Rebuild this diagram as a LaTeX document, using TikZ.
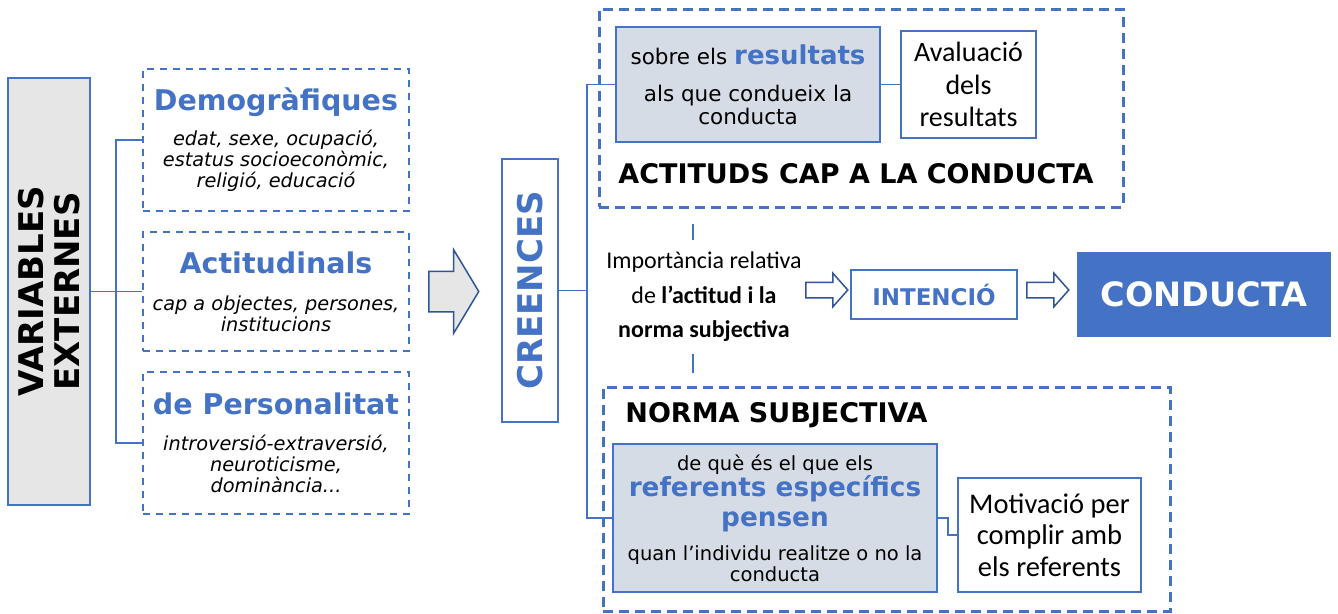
\documentclass[tikz,border=0pt]{standalone}
\usepackage{fontspec}
\setmainfont{DejaVu Sans}[ItalicFont={DejaVu Sans Oblique},BoldFont={DejaVu Sans Bold},BoldItalicFont={DejaVu Sans Bold Oblique}]
\newfontfamily\calib{Carlito}
\usepackage{tikz}
\usetikzlibrary{shapes.arrows}
\definecolor{mblue}{HTML}{4472C4}
\definecolor{dblue}{HTML}{2F5597}
\definecolor{lgray}{HTML}{E7E6E6}
\definecolor{lblue}{HTML}{D6DCE5}
\newcommand{\fsz}[2]{\fontsize{#1}{#2}\selectfont\lineskiplimit=-100pt}
\newcommand{\ttl}{\upshape\bfseries\color{mblue}\fsz{28.5}{30}}

\begin{document}
\begin{tikzpicture}[x=1pt,y=1pt,
    box/.style={draw=mblue,line width=2pt,align=center},
    dbox/.style={draw=mblue,line width=2pt,dash pattern=on 7pt off 6pt,align=center,font=\itshape\fsz{19.3}{21}},
    bigdbox/.style={draw=mblue,line width=3pt,dash pattern=on 10pt off 6pt},
    conn/.style={draw=mblue,line width=1.5pt},
    harrow/.style={single arrow,draw=dblue,line width=1.5pt,fill=white,anchor=tail,
        minimum height=42pt,minimum width=32pt,inner ysep=7pt,inner xsep=0pt,
        single arrow head extend=9pt,single arrow tip angle=97},
    bigarrow/.style={single arrow,draw=dblue,line width=1.5pt,fill=lgray,anchor=tail,
        minimum height=50pt,minimum width=83pt,inner ysep=19.5pt,inner xsep=0pt,
        single arrow head extend=21.5pt,single arrow tip angle=118}]
    \tikzstyle{every node}+=[inner sep=0pt]
    \useasboundingbox (0,0) rectangle (1338,-613);
    % external variables
    \node[box,fill=lgray,rotate=90,minimum width=427,minimum height=82,font=\bfseries\fsz{34}{36.5}] (var) at (49,-291.5) {VARIABLES\\EXTERNES};
    \node[dbox,minimum width=266,minimum height=142] (demo) at (276,-140) {{\ttl Demogràfiques}\\[14pt] edat, sexe, ocupació,\\ estatus socioeconòmic,\\ religió, educació};
    \node[dbox,minimum width=266,minimum height=119] (acti) at (276,-291.5) {{\ttl Actitudinals}\\[16pt] cap a objectes, persones,\\ institucions};
    \node[dbox,minimum width=266,minimum height=142] (perso) at (276,-443) {{\ttl de Personalitat}\\[15pt] introversió-extraversió,\\ neuroticisme,\\ dominància...};
    \coordinate (jv) at (116,-291.5);
    \draw[conn] (var.south) -- (jv) -- (acti.west);
    \draw[conn] (demo.west) -| (jv) |- (perso.west);
    % beliefs
    \node[bigarrow] (flow) at (428,-291.5) {};
    \node[box,fill=white,rotate=90,minimum width=263,minimum height=56,text=mblue,font=\bfseries\fsz{34}{36}] (cre) at (530,-290.5) {CREENCES};
    % attitude
    \node[bigdbox,minimum width=524,minimum height=198] (actbox) at (861,-108) {};
    \node[font=\bfseries\fsz{27}{29}] (acttit) at (856,-174) {ACTITUDS CAP A LA CONDUCTA};
    \node[box,fill=lblue,minimum width=264,minimum height=115,font=\fsz{21.5}{23}] (sobre) at (748,-84.5) {sobre els {\bfseries\color{mblue}\fsz{26}{28}resultats}\\[14pt] als que condueix la\\ conducta};
    \node[box,minimum width=135,minimum height=107,font=\calib\fsz{28}{32.5}] (aval) at (968.5,-84.5) {Avaluació\\dels\\resultats};
    \draw[conn] (sobre.east) -- (aval.west);
    % subjective norm
    \node[bigdbox,minimum width=567,minimum height=224] (normbox) at (886.5,-499) {};
    \node[font=\bfseries\fsz{27}{29}] (normtit) at (776.5,-415) {NORMA SUBJECTIVA};
    \node[box,fill=lblue,minimum width=324,minimum height=148,font=\fsz{19.5}{21}] (ref) at (775,-518) {de què és el que els\\[5pt] {\bfseries\color{mblue}\fsz{26.3}{28}referents específics}\\[9pt] {\bfseries\color{mblue}\fsz{26.3}{28}pensen}\\[13pt] quan l’individu realitze o no la\\ conducta};
    \node[box,minimum width=183,minimum height=114,font=\calib\fsz{28.5}{31.5}] (mot) at (1049.5,-535) {Motivació per\\complir amb\\els referents};
    \draw[conn] (ref.east) -- ++(10,0) |- (mot.west);
    \coordinate (jc) at (587,-290.5);
    \draw[conn] (cre.south) -- (jc);
    \draw[conn] (sobre.west) -| (jc) |- (ref.west);
    % weight, intention, behaviour
    \node[align=center,inner ysep=12pt,font=\calib\fsz{24}{34.5}] (imp) at (704,-297) {Importància relativa\\de \textbf{l’actitud i la}\\\textbf{norma subjectiva}};
    \draw[conn] ([xshift=-11]imp.north) -- ++(0,16);
    \draw[conn] ([xshift=-11]imp.south) -- ++(0,-19);
    \node[harrow] (a1) at (805,-290) {};
    \node[box,line width=1.5pt,minimum width=166,minimum height=49,text=mblue,font=\bfseries\fsz{23}{25}] (inten) at (934,-294.5) {INTENCIÓ};
    \node[harrow] (a2) at (1026,-290) {};
    \node[fill=mblue,minimum width=254,minimum height=85,text=white,font=\bfseries\fsz{33.5}{36}] (cond) at (1204,-294.5) {CONDUCTA};
\end{tikzpicture}
\end{document}
